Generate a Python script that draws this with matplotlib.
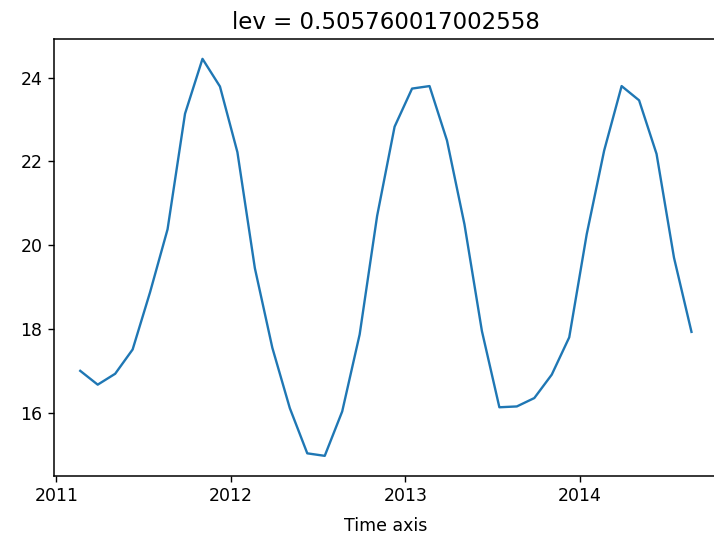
import matplotlib
matplotlib.use("Agg")
import matplotlib.pyplot as plt
import matplotlib.dates as mdates
import pandas as pd

title = "lev = 0.505760017002558"
xlabel = "Time axis"
start_date = "2011-02-20"
end_date = "2014-08-23"
values = [17.00, 16.67, 16.93, 17.51, 18.88, 20.38, 23.14, 24.45, 23.79, 22.22,
          19.45, 17.55, 16.11, 15.03, 14.97, 16.03, 17.87, 20.70, 22.83, 23.74,
          23.80, 22.50, 20.50, 17.95, 16.13, 16.15, 16.35, 16.91, 17.80, 20.26,
          22.26, 23.80, 23.46, 22.18, 19.70, 17.93]
xlim = ("2010-12-26", "2014-11-19")

dates = pd.date_range(start_date, end_date, periods=len(values))

fig = plt.figure(figsize=(7.14, 5.37), dpi=100)
ax = fig.add_axes([53.5 / 714, 61.3 / 537, 680 / 714, 436.7 / 537])
ax.plot(dates, values, color="#1f77b4", linewidth=1.7)
ax.set_xlim(pd.Timestamp(xlim[0]), pd.Timestamp(xlim[1]))
ax.set_title(title, fontsize=16.5, pad=7, x=(386 - 53.5) / 680)
ax.set_xlabel(xlabel, fontsize=12.5, labelpad=4)
ax.xaxis.set_label_coords((386 - 53.5) / 680, -0.095)
ax.xaxis.set_major_locator(mdates.YearLocator())
ax.xaxis.set_major_formatter(mdates.DateFormatter("%Y"))
ax.tick_params(labelsize=12.5, length=4.5, width=1)
for s in ax.spines.values():
    s.set_linewidth(1.1)
fig.savefig("out.png", dpi=100)
